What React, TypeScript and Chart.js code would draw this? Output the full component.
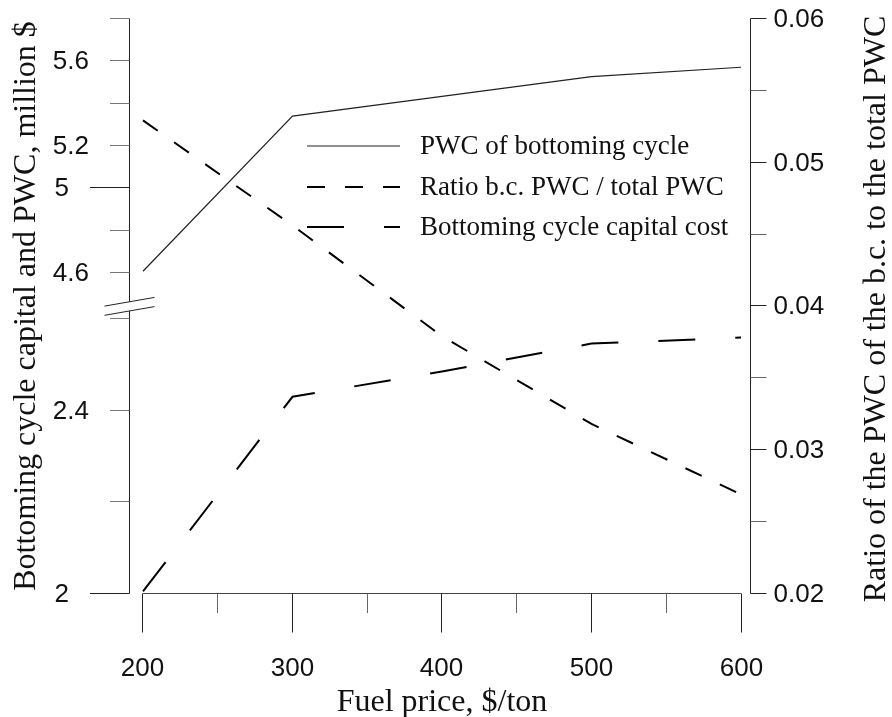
import React, { useEffect, useRef } from 'react';
import { Chart, registerables } from 'chart.js';

Chart.register(...registerables);

// Fuel price, $/ton
const fuelPrice = [200, 300, 400, 500, 600];
// Present worth cost of the bottoming cycle, million $
const pwcBottoming = [4.607, 5.339, 5.432, 5.525, 5.569];
// Ratio of bottoming-cycle PWC to total PWC
const ratioPwc = [0.0529, 0.0456, 0.0379, 0.0318, 0.0269];
// Bottoming cycle capital cost, million $
const capitalCost = [2.005, 2.429, 2.484, 2.545, 2.558];

const seriesNames = [
  'PWC of bottoming cycle',
  'Ratio b.c. PWC / total PWC',
  'Bottoming cycle capital cost',
];

const xTicks = [200, 250, 300, 350, 400, 450, 500, 550, 600];
const xTickLabels = ['200', '', '300', '', '400', '', '500', '', '600'];

// left axis is broken: upper part for PWC, lower part for capital cost
const upperTicks = [5.8, 5.6, 5.4, 5.2, 5.0, 4.8, 4.6];
const upperTickLabels = ['', '5.6', '', '5.2', '5', '', '4.6'];
const lowerTicks = [2.6, 2.4, 2.2, 2.0];
const lowerTickLabels = ['', '2.4', '', '2'];
const longLeftTicks = [5.0, 2.0];
const breakValue = 2.626;

const ratioTicks = [0.06, 0.055, 0.05, 0.045, 0.04, 0.035, 0.03, 0.025, 0.02];
const ratioTickLabels = ['0.06', '', '0.05', '', '0.04', '', '0.03', '', '0.02'];

const xTitle = 'Fuel price, $/ton';
const leftTitle = 'Bottoming cycle capital and PWC, million $';
const rightTitle = 'Ratio of the PWC of the b.c. to the total PWC';

const TICK_FONT = '26px "Liberation Sans", Arial, sans-serif';
const TITLE_FONT = '32px "Liberation Serif", "Times New Roman", serif';
const LEGEND_FONT = '27px "Liberation Serif", "Times New Roman", serif';

const crisp = (v: number) => Math.floor(v) + 0.5;

const axesPlugin = {
  id: 'paperAxes',
  beforeDatasetsDraw(chart: any) {
    const ctx: CanvasRenderingContext2D = chart.ctx;
    const { x, yUp, yLow, yRatio } = chart.scales;
    const area = chart.chartArea;
    ctx.save();
    ctx.lineWidth = 1;
    ctx.fillStyle = '#111';

    // bottom axis
    const axisY = crisp(yLow.getPixelForValue(2));
    ctx.strokeStyle = '#444';
    ctx.beginPath();
    ctx.moveTo(x.getPixelForValue(xTicks[0]), axisY);
    ctx.lineTo(x.getPixelForValue(xTicks[xTicks.length - 1]), axisY);
    ctx.stroke();
    ctx.font = TICK_FONT;
    ctx.textAlign = 'center';
    ctx.textBaseline = 'alphabetic';
    xTicks.forEach((v, i) => {
      const px = crisp(x.getPixelForValue(v));
      const major = xTickLabels[i] !== '';
      ctx.strokeStyle = major ? '#222' : '#666';
      ctx.beginPath();
      ctx.moveTo(px, axisY);
      ctx.lineTo(px, axisY + (major ? 39 : 19.5));
      ctx.stroke();
      if (major) ctx.fillText(xTickLabels[i], px, axisY + 82);
    });

    // left axis
    const leftX = crisp(area.left);
    const topY = yUp.getPixelForValue(upperTicks[0]);
    ctx.strokeStyle = '#222';
    ctx.beginPath();
    ctx.moveTo(leftX, crisp(topY));
    ctx.lineTo(leftX, axisY);
    ctx.stroke();
    ctx.textAlign = 'right';
    ctx.textBaseline = 'middle';
    const drawLeft = (scale: any, ticks: number[], labels: string[]) => {
      ticks.forEach((v, i) => {
        const py = crisp(scale.getPixelForValue(v));
        const long = longLeftTicks.includes(v);
        const start = leftX - (long ? 39.5 : 19.5);
        ctx.strokeStyle = long ? '#222' : '#777';
        ctx.beginPath();
        ctx.moveTo(start, py);
        ctx.lineTo(leftX, py);
        ctx.stroke();
        if (labels[i]) ctx.fillText(labels[i], start - 21, py + 1);
      });
    };
    drawLeft(yUp, upperTicks, upperTickLabels);
    drawLeft(yLow, lowerTicks, lowerTickLabels);

    // axis break (two slashes with a blank between them)
    const by = yLow.getPixelForValue(breakValue);
    const bx0 = leftX - 25;
    const bx1 = leftX + 25;
    const rise = 8.7;
    const half = 4.6;
    ctx.fillStyle = '#fff';
    ctx.beginPath();
    ctx.moveTo(bx0, by + rise / 2 - half);
    ctx.lineTo(bx1, by - rise / 2 - half);
    ctx.lineTo(bx1, by - rise / 2 + half);
    ctx.lineTo(bx0, by + rise / 2 + half);
    ctx.closePath();
    ctx.fill();
    ctx.strokeStyle = '#222';
    [-half, half].forEach((o) => {
      ctx.beginPath();
      ctx.moveTo(bx0, by + rise / 2 + o);
      ctx.lineTo(bx1, by - rise / 2 + o);
      ctx.stroke();
    });
    ctx.fillStyle = '#111';

    // right axis
    const rightX = crisp(area.right);
    ctx.strokeStyle = '#222';
    ctx.beginPath();
    ctx.moveTo(rightX, crisp(yRatio.getPixelForValue(0.06)));
    ctx.lineTo(rightX, crisp(yRatio.getPixelForValue(0.02)));
    ctx.stroke();
    ctx.textAlign = 'left';
    ratioTicks.forEach((v, i) => {
      const py = crisp(yRatio.getPixelForValue(v));
      ctx.strokeStyle = ratioTickLabels[i] ? '#222' : '#666';
      ctx.beginPath();
      ctx.moveTo(rightX, py);
      ctx.lineTo(rightX + 16, py);
      ctx.stroke();
      if (ratioTickLabels[i]) ctx.fillText(ratioTickLabels[i], rightX + 23, py + 1);
    });

    // titles
    ctx.font = TITLE_FONT;
    ctx.textAlign = 'center';
    ctx.textBaseline = 'alphabetic';
    ctx.fillText(xTitle, (x.getPixelForValue(200) + x.getPixelForValue(600)) / 2, 711);

    ctx.save();
    ctx.translate(35, (area.top + area.bottom) / 2);
    ctx.rotate(-Math.PI / 2);
    ctx.fillText(leftTitle, 0, 0);
    ctx.restore();

    ctx.save();
    ctx.translate(885, (area.top + area.bottom) / 2 + 3);
    ctx.rotate(-Math.PI / 2);
    ctx.fillText(rightTitle, 0, 0);
    ctx.restore();

    ctx.restore();
  },
  afterDatasetsDraw(chart: any) {
    const ctx: CanvasRenderingContext2D = chart.ctx;
    const rows = [146, 187, 227];
    ctx.save();
    chart.data.datasets.forEach((ds: any, i: number) => {
      const y = rows[i];
      ctx.strokeStyle = ds.borderColor;
      ctx.lineWidth = ds.borderWidth;
      ctx.setLineDash(ds.borderDash || []);
      ctx.beginPath();
      ctx.moveTo(307, y);
      ctx.lineTo(400, y);
      ctx.stroke();
      ctx.setLineDash([]);
      ctx.font = LEGEND_FONT;
      ctx.fillStyle = '#111';
      ctx.textAlign = 'left';
      ctx.textBaseline = 'middle';
      ctx.fillText(ds.label, 420, y + 1);
    });
    ctx.restore();
  },
};

const toPoints = (ys: number[]) => fuelPrice.map((xv, i) => ({ x: xv, y: ys[i] }));

export default function App() {
  const canvasRef = useRef<HTMLCanvasElement | null>(null);

  useEffect(() => {
    const canvas = canvasRef.current;
    if (!canvas) return;
    const chart = new Chart(canvas, {
      type: 'line',
      data: {
        datasets: [
          {
            label: seriesNames[0],
            data: toPoints(pwcBottoming),
            yAxisID: 'yUp',
            borderColor: '#222',
            borderWidth: 1.2,
            pointRadius: 0,
            tension: 0,
          },
          {
            label: seriesNames[1],
            data: toPoints(ratioPwc),
            yAxisID: 'yRatio',
            borderColor: '#000',
            borderWidth: 2,
            borderDash: [18, 20],
            pointRadius: 0,
            tension: 0,
          },
          {
            label: seriesNames[2],
            data: toPoints(capitalCost),
            yAxisID: 'yLow',
            borderColor: '#000',
            borderWidth: 2,
            borderDash: [37, 40],
            pointRadius: 0,
            tension: 0,
          },
        ],
      },
      options: {
        responsive: false,
        animation: false,
        devicePixelRatio: 1,
        events: [],
        layout: { padding: { left: 129, right: 142, top: 18.3, bottom: 123.3 } },
        scales: {
          x: { type: 'linear', min: 190.64, max: 606.02, display: false },
          yUp: { type: 'linear', min: 3.086, max: 5.8, display: false },
          yLow: { type: 'linear', min: 2, max: 3.2536, display: false },
          yRatio: { type: 'linear', min: 0.02, max: 0.06, display: false },
        },
        plugins: {
          legend: { display: false },
          tooltip: { enabled: false },
        },
      },
      plugins: [axesPlugin],
    });
    return () => chart.destroy();
  }, []);

  return (
    <div style={{ position: 'fixed', left: 0, top: 0, width: 892, height: 717, background: '#fff' }}>
      <canvas ref={canvasRef} width={892} height={717} />
    </div>
  );
}
